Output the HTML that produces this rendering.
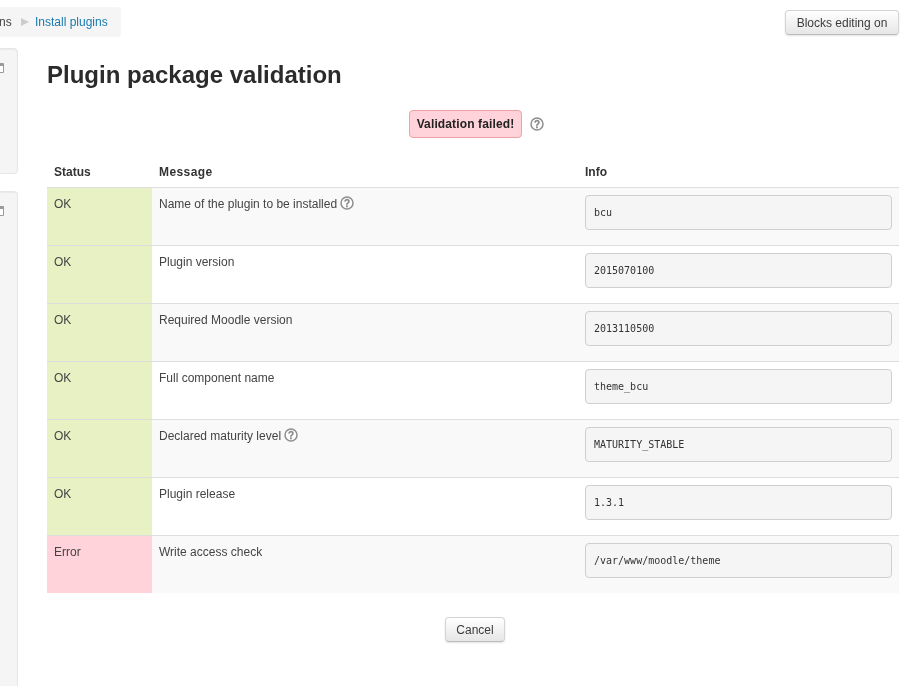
<!DOCTYPE html>
<html><head><meta charset="utf-8"><title>Plugin package validation</title>
<style>
html,body{margin:0;padding:0;background:#fff;}
body{width:915px;height:686px;overflow:hidden;position:relative;font-family:"Liberation Sans",Arial,sans-serif;font-size:12px;color:#333;line-height:18px;}
.crumb{position:absolute;left:-40px;top:7px;width:161px;height:30px;background:#f5f5f5;border-radius:4px;}
.crumb span,.crumb a{position:absolute;top:6px;font-size:12px;line-height:18px;white-space:nowrap;}
.crumb .ns{left:39px;color:#444;}
.crumb .ar{left:61px;top:11px;width:0;height:0;border-left:8px solid #ccc;border-top:4px solid transparent;border-bottom:4px solid transparent;}
.crumb a{left:75px;color:#1a7aae;text-decoration:none;}
.btn{position:absolute;box-sizing:border-box;border:1px solid #d4d4d4;border-bottom-color:#bcbcbc;border-radius:4px;background:linear-gradient(#fff,#e6e6e6);color:#3c3c3c;font-size:12px;text-align:center;box-shadow:inset 0 1px 0 rgba(255,255,255,.2),0 1px 2px rgba(0,0,0,.12);white-space:nowrap;}
.blk{position:absolute;left:-20px;width:38px;background:#f5f5f5;border:1px solid #e6e6e6;border-radius:4px;box-sizing:border-box;box-shadow:inset 0 1px 1px rgba(0,0,0,.05);}
.ico{position:absolute;left:-6px;width:10px;height:10px;box-sizing:border-box;border:1.5px solid #999;border-top-width:3px;border-radius:1px;background:#fff;}
.ico:before,.ico:after{content:"";position:absolute;left:1px;width:4px;height:1px;background:#bbb;top:1px;}
.ico:after{top:3px;}
h2{position:absolute;left:47px;top:60px;margin:0;font-size:24px;line-height:30px;font-weight:bold;color:#2b2b2b;white-space:nowrap;}
.fail{position:absolute;left:409px;top:110px;width:113px;height:28px;box-sizing:border-box;border:1px solid #f0a0a0;border-radius:4px;background:#ffd3d9;font-weight:bold;font-size:12px;line-height:26px;text-align:center;color:#222;white-space:nowrap;letter-spacing:0.13px;}
.help{position:absolute;width:14px;height:14px;}
table{position:absolute;left:47px;top:158px;width:852px;border-collapse:collapse;table-layout:fixed;}
th{height:29px;padding:0 7px;text-align:left;font-weight:bold;font-size:12px;color:#333;vertical-align:middle;box-sizing:border-box;}
td{height:58px;padding:7px 7px 0 7px;vertical-align:top;border-top:1px solid #ddd;box-sizing:border-box;font-size:12px;line-height:18px;color:#444;}
tr.odd td{background:#f9f9f9;}
tr.even td{background:#fff;}
td.ok{background:#e7f1c3 !important;}
td.err{background:#ffd3d9 !important;}
pre{margin:0;box-sizing:border-box;width:307px;height:35px;border:1px solid #cfcfcf;border-radius:4px;background:#f5f5f5;font-family:"DejaVu Sans Mono","Liberation Mono",monospace;font-size:10px;line-height:18px;padding:8px 8px;color:#333;}
td.info{padding:7px 7px 0 0;}
</style></head><body>
<div class="crumb"><span class="ns">ns</span><span class="ar"></span><a>Install plugins</a></div>
<div class="btn" style="left:785px;top:10px;width:114px;height:25px;line-height:24px;">Blocks editing on</div>
<div class="blk" style="top:48px;height:126px;"><div class="ico" style="left:13px;top:14px;"></div></div>
<div class="blk" style="top:191px;height:520px;"><div class="ico" style="left:13px;top:14px;"></div></div>
<h2>Plugin package validation</h2>
<div class="fail">Validation failed!</div>
<svg class="help" style="left:530px;top:117px" viewBox="0 0 14 14"><circle cx="7" cy="7" r="6" fill="#fdfdfd" stroke="#8e8e8e" stroke-width="1.5"/><text x="7" y="10.6" font-size="10" font-weight="bold" text-anchor="middle" fill="#8a8a8a" stroke="#8a8a8a" stroke-width="0.3" font-family="Liberation Sans, sans-serif">?</text></svg>
<table>
<colgroup><col style="width:105px"><col style="width:433px"><col style="width:314px"></colgroup>
<tr><th>Status</th><th style="letter-spacing:0.42px">Message</th><th style="padding-left:0">Info</th></tr>
<tr class="odd"><td class="ok">OK</td><td>Name of the plugin to be installed <svg style="width:14px;height:14px;vertical-align:-2px;margin-left:0px" viewBox="0 0 14 14"><circle cx="7" cy="7" r="6" fill="#fdfdfd" stroke="#8e8e8e" stroke-width="1.5"/><text x="7" y="10.6" font-size="10" font-weight="bold" text-anchor="middle" fill="#8a8a8a" stroke="#8a8a8a" stroke-width="0.3" font-family="Liberation Sans, sans-serif">?</text></svg></td><td class="info"><pre>bcu</pre></td></tr>
<tr class="even"><td class="ok">OK</td><td>Plugin version</td><td class="info"><pre>2015070100</pre></td></tr>
<tr class="odd"><td class="ok">OK</td><td>Required Moodle version</td><td class="info"><pre>2013110500</pre></td></tr>
<tr class="even"><td class="ok">OK</td><td>Full component name</td><td class="info"><pre>theme_bcu</pre></td></tr>
<tr class="odd"><td class="ok">OK</td><td>Declared maturity level <svg style="width:14px;height:14px;vertical-align:-2px;margin-left:0px" viewBox="0 0 14 14"><circle cx="7" cy="7" r="6" fill="#fdfdfd" stroke="#8e8e8e" stroke-width="1.5"/><text x="7" y="10.6" font-size="10" font-weight="bold" text-anchor="middle" fill="#8a8a8a" stroke="#8a8a8a" stroke-width="0.3" font-family="Liberation Sans, sans-serif">?</text></svg></td><td class="info"><pre>MATURITY_STABLE</pre></td></tr>
<tr class="even"><td class="ok">OK</td><td>Plugin release</td><td class="info"><pre>1.3.1</pre></td></tr>
<tr class="odd"><td class="err">Error</td><td>Write access check</td><td class="info"><pre>/var/www/moodle/theme</pre></td></tr>
</table>
<div class="btn" style="left:445px;top:617px;width:60px;height:25px;line-height:25px;">Cancel</div>
</body></html>
